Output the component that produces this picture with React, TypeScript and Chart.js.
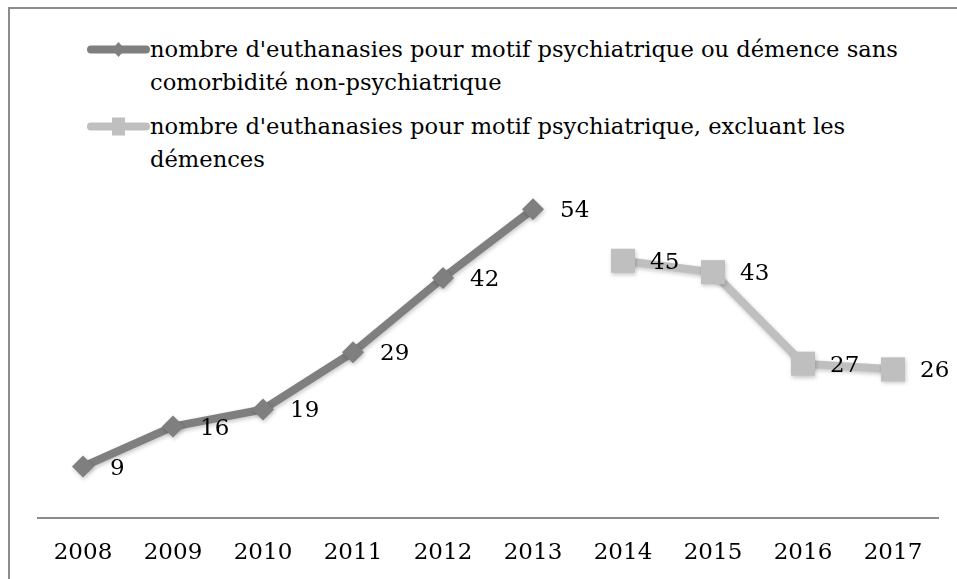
import React, { useEffect, useRef } from "react";
import { Chart, registerables } from "chart.js";

Chart.register(...registerables);

const years = ["2008", "2009", "2010", "2011", "2012", "2013", "2014", "2015", "2016", "2017"];
const seriesA: (number | null)[] = [9, 16, 19, 29, 42, 54, null, null, null, null];
const seriesB: (number | null)[] = [null, null, null, null, null, null, 45, 43, 27, 26];
const labelA = "nombre d'euthanasies pour motif psychiatrique ou démence sans comorbidité non-psychiatrique";
const labelB = "nombre d'euthanasies pour motif psychiatrique, excluant les démences";
const legendLinesA = ["nombre d'euthanasies pour motif psychiatrique ou démence sans", "comorbidité non-psychiatrique"];
const legendLinesB = ["nombre d'euthanasies pour motif psychiatrique, excluant les", "démences"];
const yMin = 0;
const yMax = 60;

const colorA = "#7f7f7f";
const colorB = "#bfbfbf";
const FONT_FAMILY = '"DejaVu Serif", serif';
const FONT_SIZE = 23;

const softShadow = {
  id: "softShadow",
  beforeDatasetsDraw(chart: any) {
    const ctx = chart.ctx;
    ctx.save();
    ctx.shadowColor = "rgba(0,0,0,0.22)";
    ctx.shadowBlur = 4;
    ctx.shadowOffsetX = 1;
    ctx.shadowOffsetY = 2;
  },
  afterDatasetsDraw(chart: any) {
    chart.ctx.restore();
  },
};

const valueLabels = {
  id: "valueLabels",
  afterDatasetsDraw(chart: any) {
    const ctx = chart.ctx;
    ctx.save();
    ctx.font = `${FONT_SIZE}px ${FONT_FAMILY}`;
    ctx.fillStyle = "#000";
    ctx.textAlign = "left";
    ctx.textBaseline = "middle";
    chart.data.datasets.forEach((ds: any, i: number) => {
      const meta = chart.getDatasetMeta(i);
      meta.data.forEach((pt: any, j: number) => {
        const v = ds.data[j];
        if (v == null) return;
        ctx.fillText(String(v), pt.x + 27, pt.y + 2);
      });
    });
    ctx.restore();
  },
};

function LegendItem({ lines, color, marker, top }: { lines: string[]; color: string; marker: "diamond" | "square"; top: number }) {
  return (
    <div style={{ position: "absolute", left: 77, top, display: "flex", alignItems: "flex-start" }}>
      <svg width={63} height={33} style={{ flex: "none" }}>
        <line x1={4} y1={16.5} x2={59} y2={16.5} stroke={color} strokeWidth={8} strokeLinecap="round" />
        {marker === "diamond" ? (
          <polygon points="31.5,9 38,16.5 31.5,24 25,16.5" fill={color} />
        ) : (
          <rect x={25} y={7.5} width={13} height={18} fill={color} />
        )}
      </svg>
      <div style={{ fontFamily: FONT_FAMILY, fontSize: 22.6, lineHeight: "33px", color: "#000", whiteSpace: "nowrap" }}>
        {lines.map((l, i) => (
          <div key={i}>{l}</div>
        ))}
      </div>
    </div>
  );
}

export default function App() {
  const canvasRef = useRef<HTMLCanvasElement>(null);

  useEffect(() => {
    if (!canvasRef.current) return;
    const chart = new Chart(canvasRef.current, {
      type: "line",
      data: {
        labels: years,
        datasets: [
          {
            label: labelA,
            data: seriesA,
            borderColor: colorA,
            backgroundColor: colorA,
            borderWidth: 8,
            pointStyle: "rectRot",
            pointRadius: 11,
            pointBorderWidth: 0,
            pointBackgroundColor: colorA,
            tension: 0,
          },
          {
            label: labelB,
            data: seriesB,
            borderColor: colorB,
            backgroundColor: colorB,
            borderWidth: 8,
            pointStyle: "rect",
            pointRadius: 17,
            pointBorderWidth: 0,
            pointBackgroundColor: colorB,
            tension: 0,
          },
        ],
      },
      options: {
        animation: false,
        responsive: true,
        maintainAspectRatio: false,
        layout: { padding: { left: 28, right: 19, top: 166, bottom: 0 } },
        plugins: {
          legend: { display: false },
          tooltip: { enabled: false },
        },
        scales: {
          x: {
            offset: true,
            grid: { display: false, drawTicks: false },
            border: { display: true, color: "#8c8c8c", width: 2 },
            ticks: {
              padding: 21,
              color: "#000",
              font: { family: FONT_FAMILY, size: FONT_SIZE },
              maxRotation: 0,
            },
            afterFit(scale: any) {
              scale.height = 61;
            },
          },
          y: {
            display: false,
            min: yMin,
            max: yMax,
          },
        },
      },
      plugins: [softShadow, valueLabels],
    });
    return () => chart.destroy();
  }, []);

  return (
    <div
      style={{
        position: "fixed",
        left: 8,
        top: 7,
        width: 949,
        height: 572,
        boxSizing: "border-box",
        borderTop: "2px solid #8c8c8c",
        borderLeft: "2px solid #8c8c8c",
        background: "#fff",
      }}
    >
      <LegendItem lines={legendLinesA} color={colorA} marker="diamond" top={24} />
      <LegendItem lines={legendLinesB} color={colorB} marker="square" top={101} />
      <div style={{ position: "absolute", left: 0, top: 0, right: 0, bottom: 0 }}>
        <canvas ref={canvasRef} />
      </div>
    </div>
  );
}
